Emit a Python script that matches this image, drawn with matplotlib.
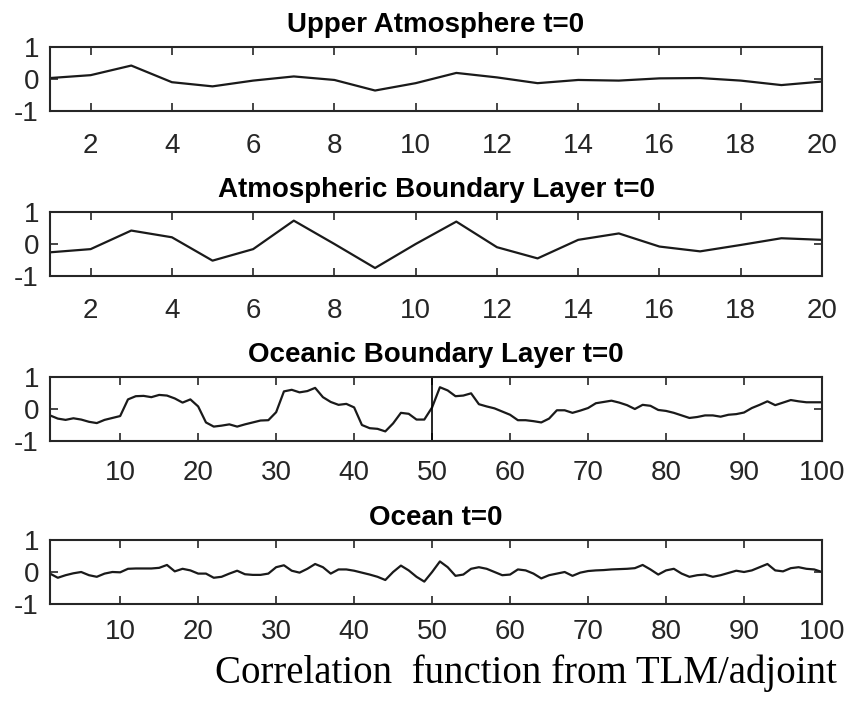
import matplotlib
matplotlib.use("Agg")
import matplotlib.pyplot as plt
import numpy as np

# ---------------- data ----------------
titles = ["Upper Atmosphere t=0", "Atmospheric Boundary Layer t=0",
          "Oceanic Boundary Layer t=0", "Ocean t=0"]

upper_atm = [0.03, 0.12, 0.42, -0.10, -0.23, -0.05, 0.08, -0.03, -0.36, -0.13,
             0.19, 0.05, -0.13, -0.03, -0.05, 0.02, 0.03, -0.05, -0.19, -0.08]

atm_bl = [-0.26, -0.16, 0.42, 0.21, -0.52, -0.16, 0.73, 0.00, -0.75, 0.00,
          0.70, -0.10, -0.45, 0.13, 0.33, -0.08, -0.23, -0.03, 0.18, 0.13]

ocean_bl = [-0.20, -0.30, -0.34, -0.29, -0.33, -0.40, -0.44, -0.34, -0.28, -0.22,
            0.30, 0.40, 0.41, 0.37, 0.44, 0.42, 0.33, 0.20, 0.30, 0.08,
            -0.42, -0.55, -0.52, -0.48, -0.55, -0.48, -0.42, -0.36, -0.35, -0.10,
            0.55, 0.60, 0.52, 0.56, 0.66, 0.37, 0.22, 0.13, 0.16, 0.05,
            -0.50, -0.60, -0.62, -0.70, -0.45, -0.12, -0.15, -0.33, -0.33, 0.05,
            0.68, 0.58, 0.40, 0.42, 0.49, 0.15, 0.08, 0.02, -0.08, -0.18,
            -0.35, -0.35, -0.38, -0.42, -0.30, -0.04, -0.04, -0.12, -0.05, 0.03,
            0.18, 0.22, 0.26, 0.20, 0.12, 0.00, 0.13, 0.10, -0.03, -0.06,
            -0.12, -0.20, -0.28, -0.25, -0.20, -0.20, -0.24, -0.18, -0.16, -0.11,
            0.03, 0.13, 0.24, 0.12, 0.20, 0.28, 0.24, 0.21, 0.21, 0.21]

ocean = [-0.05, -0.18, -0.10, -0.04, 0.00, -0.10, -0.15, -0.05, 0.00, -0.01,
         0.10, 0.11, 0.11, 0.11, 0.13, 0.22, 0.02, 0.10, 0.05, -0.05,
         -0.05, -0.18, -0.15, -0.05, 0.04, -0.07, -0.09, -0.09, -0.05, 0.15,
         0.21, 0.04, -0.02, 0.10, 0.25, 0.15, -0.05, 0.08, 0.08, 0.04,
         -0.02, -0.08, -0.15, -0.25, 0.00, 0.20, 0.05, -0.15, -0.30, 0.00,
         0.33, 0.15, -0.12, -0.08, 0.10, 0.15, 0.10, 0.00, -0.10, -0.08,
         0.08, 0.05, -0.05, -0.20, -0.10, -0.05, 0.00, -0.12, -0.02, 0.03,
         0.05, 0.06, 0.08, 0.09, 0.10, 0.12, 0.22, 0.08, -0.08, 0.05,
         0.10, -0.05, -0.15, -0.10, -0.08, -0.15, -0.10, -0.03, 0.04, 0.00,
         0.05, 0.15, 0.25, 0.05, 0.02, 0.12, 0.15, 0.10, 0.08, 0.00]

series = [upper_atm, atm_bl, ocean_bl, ocean]
xticks_small = [2, 4, 6, 8, 10, 12, 14, 16, 18, 20]
xticks_large = [10, 20, 30, 40, 50, 60, 70, 80, 90, 100]
yticks = [-1, 0, 1]
vline_x = 50
caption = "Correlation  function from TLM/adjoint"

# ---------------- figure ----------------
W, H = 848, 702
fig = plt.figure(figsize=(W / 100, H / 100), dpi=100)
fig.patch.set_facecolor("white")

left_px, right_px = 50, 822
tops_px = [47, 212, 377, 540]
ax_h_px = 64
xpads = [16, 16, 14, 11]

sans = ["Liberation Sans", "DejaVu Sans"]
tick_color = "#262626"

for i, (data, title) in enumerate(zip(series, titles)):
    top = tops_px[i]
    ax = fig.add_axes([left_px / W, 1 - (top + ax_h_px) / H,
                       (right_px - left_px) / W, ax_h_px / H])
    x = np.arange(1, len(data) + 1)
    ax.plot(x, data, color="#1a1a1a", lw=1.6)
    ax.set_xlim(1, len(data))
    ax.set_ylim(-1, 1)
    ax.set_yticks(yticks)
    ax.set_yticklabels([str(v) for v in yticks])
    ax.set_xticks(xticks_small if len(data) == 20 else xticks_large)
    if i == 2:
        ax.axvline(vline_x, color="black", lw=1.2)
    ax.tick_params(axis="both", direction="in", top=True, right=True,
                   length=6, width=1.2, colors=tick_color, labelsize=20)
    ax.tick_params(axis="x", pad=xpads[i])
    ax.tick_params(axis="y", pad=8)
    for lab in ax.get_xticklabels() + ax.get_yticklabels():
        lab.set_family(sans)
    for s in ax.spines.values():
        s.set_color(tick_color)
        s.set_linewidth(1.5)
    ax.set_title(title, fontsize=20, fontweight="bold", family=sans,
                 color="black", pad=11)

fig.text(0.62, 1 - 673 / H, caption, ha="center", va="center",
         fontsize=28, family=["Liberation Serif", "DejaVu Serif"], color="black")

fig.savefig("out.png", dpi=100, facecolor="white")
